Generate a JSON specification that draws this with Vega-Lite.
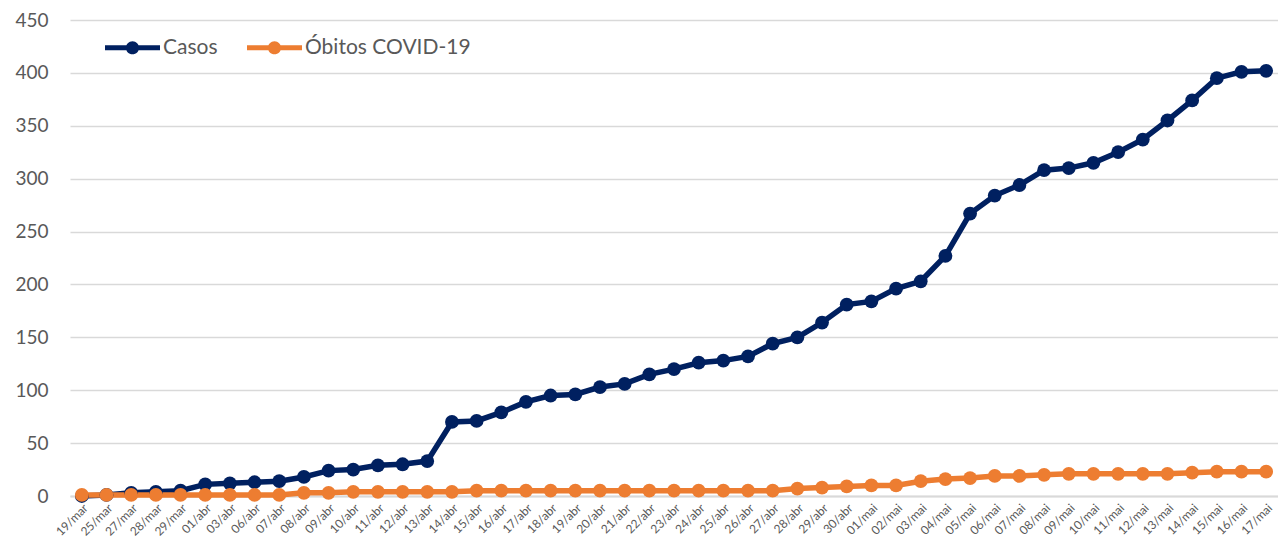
{
  "$schema": "https://vega.github.io/schema/vega-lite/v6.json",
  "autosize": "none",
  "width": 1208,
  "height": 476,
  "padding": {"left": 70, "top": 20, "right": 0, "bottom": 48},
  "background": "white",
  "config": {
    "font": "Lato",
    "view": {"stroke": null}
  },
  "datasets": {
    "wide": [
      {"d": "19/mar", "c": 0, "o": 1},
      {"d": "25/mar", "c": 1, "o": 1},
      {"d": "27/mar", "c": 3, "o": 1},
      {"d": "28/mar", "c": 4, "o": 1},
      {"d": "29/mar", "c": 5, "o": 1},
      {"d": "01/abr", "c": 11, "o": 1},
      {"d": "03/abr", "c": 12, "o": 1},
      {"d": "06/abr", "c": 13, "o": 1},
      {"d": "07/abr", "c": 14, "o": 1},
      {"d": "08/abr", "c": 18, "o": 3},
      {"d": "09/abr", "c": 24, "o": 3},
      {"d": "10/abr", "c": 25, "o": 4},
      {"d": "11/abr", "c": 29, "o": 4},
      {"d": "12/abr", "c": 30, "o": 4},
      {"d": "13/abr", "c": 33, "o": 4},
      {"d": "14/abr", "c": 70, "o": 4},
      {"d": "15/abr", "c": 71, "o": 5},
      {"d": "16/abr", "c": 79, "o": 5},
      {"d": "17/abr", "c": 89, "o": 5},
      {"d": "18/abr", "c": 95, "o": 5},
      {"d": "19/abr", "c": 96, "o": 5},
      {"d": "20/abr", "c": 103, "o": 5},
      {"d": "21/abr", "c": 106, "o": 5},
      {"d": "22/abr", "c": 115, "o": 5},
      {"d": "23/abr", "c": 120, "o": 5},
      {"d": "24/abr", "c": 126, "o": 5},
      {"d": "25/abr", "c": 128, "o": 5},
      {"d": "26/abr", "c": 132, "o": 5},
      {"d": "27/abr", "c": 144, "o": 5},
      {"d": "28/abr", "c": 150, "o": 7},
      {"d": "29/abr", "c": 164, "o": 8},
      {"d": "30/abr", "c": 181, "o": 9},
      {"d": "01/mai", "c": 184, "o": 10},
      {"d": "02/mai", "c": 196, "o": 10},
      {"d": "03/mai", "c": 203, "o": 14},
      {"d": "04/mai", "c": 227, "o": 16},
      {"d": "05/mai", "c": 267, "o": 17},
      {"d": "06/mai", "c": 284, "o": 19},
      {"d": "07/mai", "c": 294, "o": 19},
      {"d": "08/mai", "c": 308, "o": 20},
      {"d": "09/mai", "c": 310, "o": 21},
      {"d": "10/mai", "c": 315, "o": 21},
      {"d": "11/mai", "c": 325, "o": 21},
      {"d": "12/mai", "c": 337, "o": 21},
      {"d": "13/mai", "c": 355, "o": 21},
      {"d": "14/mai", "c": 374, "o": 22},
      {"d": "15/mai", "c": 395, "o": 23},
      {"d": "16/mai", "c": 401, "o": 23},
      {"d": "17/mai", "c": 402, "o": 23}
    ]
  },
  "data": {"name": "wide"},
  "transform": [
    {"fold": ["c", "o"], "as": ["k", "v"]},
    {"lookup": "k", "from": {"data": {"values": [{"k": "c", "s": "Casos"}, {"k": "o", "s": "Óbitos COVID-19"}]}, "key": "k", "fields": ["s"]}}
  ],
  "encoding": {
    "x": {
      "field": "d", "type": "ordinal", "sort": null,
      "scale": {"type": "point", "padding": 0.48},
      "axis": {
        "title": null, "labelAngle": -45, "labelFontSize": 12, "labelColor": "#595959",
        "ticks": false, "domain": true, "domainColor": "#d9d9d9", "domainWidth": 2,
        "labelPadding": 6, "grid": false
      }
    },
    "y": {
      "field": "v", "type": "quantitative",
      "scale": {"domain": [0, 450], "nice": false},
      "axis": {
        "title": null, "values": [0, 50, 100, 150, 200, 250, 300, 350, 400, 450],
        "labelFontSize": 19, "labelColor": "#595959", "labelPadding": 22,
        "ticks": false, "domain": false, "gridColor": "#d9d9d9", "gridWidth": 1.5
      }
    },
    "color": {
      "field": "s", "type": "nominal", "sort": ["Casos", "Óbitos COVID-19"],
      "scale": {"domain": ["Casos", "Óbitos COVID-19"], "range": ["#002060", "#ED7D31"]},
      "legend": {
        "title": null, "orient": "none", "direction": "horizontal",
        "legendX": 35, "legendY": 0,
        "labelFontSize": 21, "labelColor": "#595959", "labelOffset": 3,
        "labelLimit": 400,
        "columnPadding": 29,
        "symbolType": "M-1,-0.09 H1 V0.09 H-1 Z M-0.24,0 A0.24,0.24 0 1 1 0.24,0 A0.24,0.24 0 1 1 -0.24,0 Z",
        "symbolSize": 3025,
        "symbolStrokeWidth": 0,
        "encode": {"symbols": {"update": {"fill": {"scale": "color", "field": "value"}, "strokeWidth": {"value": 0}}}}
      }
    }
  },
  "layer": [
    {"mark": {"type": "line", "strokeWidth": 5.5}},
    {"mark": {"type": "point", "filled": true, "size": 190, "opacity": 1}}
  ]
}
